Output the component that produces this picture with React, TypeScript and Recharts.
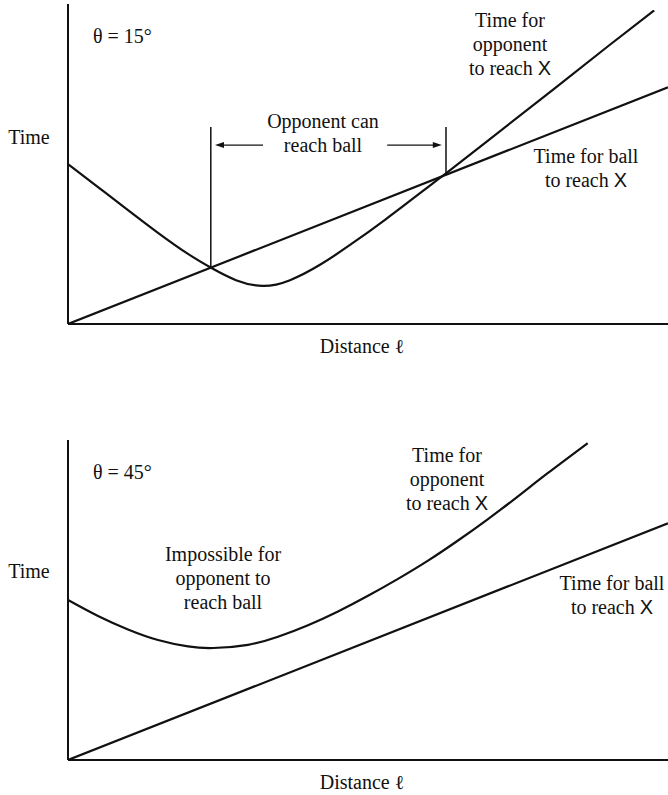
import React from "react";
import { LineChart, Line, XAxis, YAxis, ReferenceLine, Customized } from "recharts";

// Top panel (theta = 15 deg)
const topDistance = [0, 0.5, 1, 1.5, 2, 2.4, 2.8, 3.25, 3.7, 4.2, 4.7, 5.3, 6, 6.3, 7, 8, 9, 9.77];
const topOpponentTime = [5.0, 4.28, 3.56, 2.85, 2.19, 1.74, 1.37, 1.19, 1.37, 1.85, 2.47, 3.28, 4.28, 4.71, 5.73, 7.2, 8.68, 9.8];
const topBallDistance = [0, 10];
const topBallTime = [0, 7.4];

// Bottom panel (theta = 45 deg)
const bottomDistance = [0, 0.5, 1, 1.5, 2, 2.42, 3, 3.5, 4, 4.5, 5, 5.5, 6, 6.5, 7, 7.5, 8, 8.66];
const bottomOpponentTime = [5.0, 4.5, 4.08, 3.75, 3.55, 3.5, 3.6, 3.85, 4.21, 4.64, 5.13, 5.66, 6.23, 6.86, 7.53, 8.24, 8.97, 9.9];
const bottomBallDistance = [0, 10];
const bottomBallTime = [0, 7.4];

// Annotation ("Opponent can reach ball") boundaries, in data units
const reachStart = 2.38;
const reachEnd = 6.3;
const reachStartTime = 1.76;
const reachEndTime = 4.66;
const bracketTop = 6.16;
const arrowTime = 5.59;
const leftArrowFrom = 3.25;
const leftArrowTo = 2.45;
const rightArrowFrom = 5.32;
const rightArrowTo = 6.23;

const toPoints = (xs: number[], ys: number[]) => xs.map((x, i) => ({ x, y: ys[i] }));

const SERIF = '"Liberation Serif", Tinos, "Times New Roman", "DejaVu Serif", serif';
const SANS = '"Liberation Sans", Arimo, Arial, sans-serif';
const INK = "#111";

const T = ({ x, y, anchor = "middle", children }: any) => (
  <text x={x} y={y} textAnchor={anchor} fill={INK} style={{ fontFamily: SERIF, fontSize: 20 }}>
    {children}
  </text>
);
const X = () => <tspan style={{ fontFamily: SANS }}>X</tspan>;

const TopTexts = () => (
  <g>
    <T x={29} y={144}>Time</T>
    <T x={93} y={43} anchor="start">θ = 15°</T>
    <T x={323} y={128}>Opponent can</T>
    <T x={323} y={152}>reach ball</T>
    <T x={510} y={27}>Time for</T>
    <T x={510} y={51}>opponent</T>
    <T x={510} y={75}>to reach <X /></T>
    <T x={586} y={163}>Time for ball</T>
    <T x={586} y={187}>to reach <X /></T>
    <T x={362} y={353}>Distance ℓ</T>
  </g>
);

const BottomTexts = () => (
  <g>
    <T x={29} y={198}>Time</T>
    <T x={93} y={99} anchor="start">θ = 45°</T>
    <T x={223} y={181}>Impossible for</T>
    <T x={223} y={205}>opponent to</T>
    <T x={223} y={229}>reach ball</T>
    <T x={447} y={82}>Time for</T>
    <T x={447} y={106}>opponent</T>
    <T x={447} y={130}>to reach <X /></T>
    <T x={612} y={210}>Time for ball</T>
    <T x={612} y={234}>to reach <X /></T>
    <T x={362} y={409}>Distance ℓ</T>
  </g>
);

const ArrowShape = (props: any) => {
  const { x1, y1, x2, y2 } = props;
  const dir = x2 > x1 ? 1 : -1;
  const len = 9;
  const half = 3;
  return (
    <g>
      <line x1={x1} y1={y1} x2={x2 - dir * 6} y2={y2} stroke={INK} strokeWidth={1.4} />
      <polygon
        points={`${x2},${y2} ${x2 - dir * len},${y2 - half} ${x2 - dir * len},${y2 + half}`}
        fill={INK}
      />
    </g>
  );
};

const Axes = () => (
  <>
    <ReferenceLine x={0} stroke={INK} strokeWidth={2} />
    <ReferenceLine y={0} stroke={INK} strokeWidth={2} />
  </>
);

export default function App() {
  return (
    <div style={{ position: "absolute", left: 0, top: 0, width: 668, height: 795, background: "#fff" }}>
      <div style={{ position: "absolute", left: 0, top: 0 }}>
        <LineChart width={668} height={380} margin={{ top: 4, right: 0, bottom: 56, left: 68 }}>
          <XAxis type="number" dataKey="x" domain={[0, 10]} hide allowDataOverflow />
          <YAxis type="number" domain={[0, 10]} hide allowDataOverflow />
          <ReferenceLine x={0} stroke={INK} strokeWidth={2} />
          <ReferenceLine y={0} stroke={INK} strokeWidth={2} />
          <Line data={toPoints(topBallDistance, topBallTime)} dataKey="y" type="linear" stroke={INK} strokeWidth={2.2} dot={false} activeDot={false} isAnimationActive={false} />
          <Line data={toPoints(topDistance, topOpponentTime)} dataKey="y" type="natural" stroke={INK} strokeWidth={2.2} dot={false} activeDot={false} isAnimationActive={false} />
          <ReferenceLine segment={[{ x: reachStart, y: reachStartTime }, { x: reachStart, y: bracketTop }]} stroke={INK} strokeWidth={1.5} />
          <ReferenceLine segment={[{ x: reachEnd, y: reachEndTime }, { x: reachEnd, y: bracketTop }]} stroke={INK} strokeWidth={1.5} />
          <ReferenceLine segment={[{ x: leftArrowFrom, y: arrowTime }, { x: leftArrowTo, y: arrowTime }]} shape={ArrowShape} />
          <ReferenceLine segment={[{ x: rightArrowFrom, y: arrowTime }, { x: rightArrowTo, y: arrowTime }]} shape={ArrowShape} />
          <Customized component={TopTexts} />
        </LineChart>
      </div>
      <div style={{ position: "absolute", left: 0, top: 380 }}>
        <LineChart width={668} height={415} margin={{ top: 60, right: 0, bottom: 35, left: 68 }}>
          <XAxis type="number" dataKey="x" domain={[0, 10]} hide allowDataOverflow />
          <YAxis type="number" domain={[0, 10]} hide allowDataOverflow />
          <ReferenceLine x={0} stroke={INK} strokeWidth={2} />
          <ReferenceLine y={0} stroke={INK} strokeWidth={2} />
          <Line data={toPoints(bottomBallDistance, bottomBallTime)} dataKey="y" type="linear" stroke={INK} strokeWidth={2.2} dot={false} activeDot={false} isAnimationActive={false} />
          <Line data={toPoints(bottomDistance, bottomOpponentTime)} dataKey="y" type="natural" stroke={INK} strokeWidth={2.2} dot={false} activeDot={false} isAnimationActive={false} />
          <Customized component={BottomTexts} />
        </LineChart>
      </div>
    </div>
  );
}
